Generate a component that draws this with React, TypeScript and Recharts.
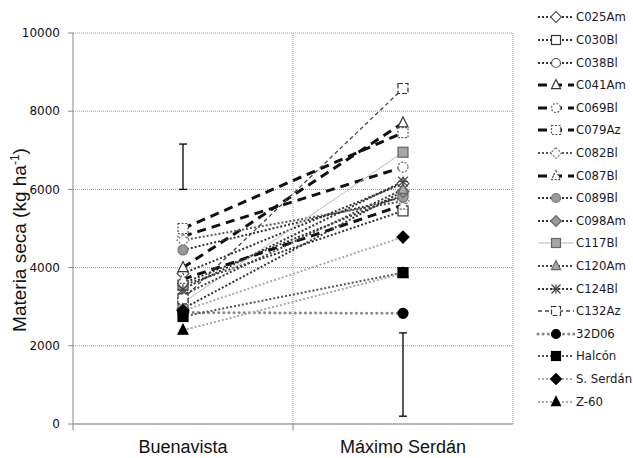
import React from "react";
import {
  LineChart,
  Line,
  XAxis,
  YAxis,
  CartesianGrid,
  ReferenceLine,
} from "recharts";

// sites (x categories) and where they sit on the 0..2 x scale
const sites = ["Buenavista", "Máximo Serdán"];
const sitePositions = [0.5, 1.5];
const siteBounds = [0, 1, 2];

const lineNames = [
  "C025Am",
  "C030Bl",
  "C038Bl",
  "C041Am",
  "C069Bl",
  "C079Az",
  "C082Bl",
  "C087Bl",
  "C089Bl",
  "C098Am",
  "C117Bl",
  "C120Am",
  "C124Bl",
  "C132Az",
  "32D06",
  "Halcón",
  "S. Serdán",
  "Z-60",
];

// materia seca (kg/ha) per line at each site
const buenavista = [
  3850, 3550, 3600, 4000, 4800, 5000, 4700, 3700, 4450, 2950, 3100, 3300, 3450,
  3200, 2850, 2750, 2900, 2400,
];
const maximoSerdan = [
  6150, 5450, 5850, 7700, 6570, 7450, 5700, 5600, 5800, 5950, 6950, 6000, 6200,
  8580, 2830, 3870, 4780, 3850,
];

// DMS bars drawn at each site
const lsdLow = [6000, 200];
const lsdHigh = [7160, 2330];

const yTicks = [0, 2000, 4000, 6000, 8000, 10000];

type Shape = "diamond" | "square" | "circle" | "triangle" | "asterisk";

interface SeriesStyle {
  stroke: string;
  width: number;
  dash?: string;
  round?: boolean;
  shape: Shape;
  fill: string;
  edge: string;
  edgeDash?: string;
}

const dotted = { stroke: "#333", width: 2, dash: "2 2" };
const heavyDash = { stroke: "#111", width: 3, dash: "9 6" };

const styles: Record<string, SeriesStyle> = {
  C025Am: { ...dotted, shape: "diamond", fill: "#fff", edge: "#555" },
  C030Bl: { ...dotted, shape: "square", fill: "#fff", edge: "#333" },
  C038Bl: { ...dotted, shape: "circle", fill: "#fff", edge: "#555" },
  C041Am: { ...heavyDash, shape: "triangle", fill: "#fff", edge: "#333" },
  C069Bl: { ...heavyDash, shape: "circle", fill: "#fff", edge: "#666", edgeDash: "2 1.5" },
  C079Az: { ...heavyDash, shape: "square", fill: "#fff", edge: "#555", edgeDash: "2 1.5" },
  C082Bl: { ...dotted, stroke: "#555", shape: "diamond", fill: "#fff", edge: "#777", edgeDash: "2 1.5" },
  C087Bl: { ...heavyDash, shape: "triangle", fill: "#fff", edge: "#555", edgeDash: "2 1.5" },
  C089Bl: { ...dotted, shape: "circle", fill: "#999", edge: "#777" },
  C098Am: { ...dotted, shape: "diamond", fill: "#999", edge: "#666" },
  C117Bl: { stroke: "#bbb", width: 1, shape: "square", fill: "#a6a6a6", edge: "#666" },
  C120Am: { ...dotted, stroke: "#444", shape: "triangle", fill: "#aaa", edge: "#666" },
  C124Bl: { ...dotted, shape: "asterisk", fill: "none", edge: "#444" },
  C132Az: { stroke: "#444", width: 1.3, dash: "4 3", shape: "square", fill: "#fff", edge: "#333", edgeDash: "5 2" },
  "32D06": { stroke: "#888", width: 3, dash: "0.1 5", round: true, shape: "circle", fill: "#000", edge: "#000" },
  Halcón: { ...dotted, stroke: "#555", shape: "square", fill: "#000", edge: "#000" },
  "S. Serdán": { ...dotted, stroke: "#aaa", shape: "diamond", fill: "#000", edge: "#000" },
  "Z-60": { ...dotted, stroke: "#aaa", shape: "triangle", fill: "#000", edge: "#000" },
};

const data = sitePositions.map((x, i) => {
  const row: Record<string, number | string> = { x, site: sites[i] };
  lineNames.forEach((name, j) => {
    row[name] = i === 0 ? buenavista[j] : maximoSerdan[j];
  });
  return row;
});

function Marker({ cx, cy, s, r = 5 }: { cx: number; cy: number; s: SeriesStyle; r?: number }) {
  const common = {
    fill: s.fill,
    stroke: s.edge,
    strokeWidth: 1.2,
    strokeDasharray: s.edgeDash,
  };
  switch (s.shape) {
    case "circle":
      return <circle cx={cx} cy={cy} r={r} {...common} />;
    case "square":
      return <rect x={cx - r} y={cy - r} width={r * 2} height={r * 2} {...common} />;
    case "diamond": {
      const d = r * 1.2;
      return (
        <polygon
          points={`${cx},${cy - d} ${cx + d},${cy} ${cx},${cy + d} ${cx - d},${cy}`}
          {...common}
        />
      );
    }
    case "triangle":
      return (
        <polygon
          points={`${cx},${cy - r * 1.2} ${cx + r},${cy + r * 0.8} ${cx - r},${cy + r * 0.8}`}
          {...common}
        />
      );
    case "asterisk":
      return (
        <g stroke={s.edge} strokeWidth={1.2}>
          <line x1={cx - r} y1={cy - r} x2={cx + r} y2={cy + r} />
          <line x1={cx - r} y1={cy + r} x2={cx + r} y2={cy - r} />
          <line x1={cx} y1={cy - r} x2={cx} y2={cy + r} />
          <line x1={cx - r} y1={cy} x2={cx + r} y2={cy} />
        </g>
      );
  }
  return null;
}

function YLabel() {
  return (
    <text
      x={26}
      y={240}
      transform="rotate(-90 26 240)"
      textAnchor="middle"
      fontFamily="'Liberation Sans', Arial, sans-serif"
      fontSize={19}
      fill="#111"
    >
      Materia seca (kg ha
      <tspan dy={-7} fontSize={12}>
        -1
      </tspan>
      <tspan dy={7}>)</tspan>
    </text>
  );
}

function LegendList() {
  return (
    <div style={{ position: "absolute", left: 0, top: 0 }}>
      {lineNames.map((name, i) => {
        const s = styles[name];
        const cy = 17.3 + i * 22.6;
        return (
          <div key={name}>
            <svg
              width={40}
              height={16}
              style={{ position: "absolute", left: 536, top: cy - 8 }}
            >
              <line
                x1={2}
                y1={8}
                x2={38}
                y2={8}
                stroke={s.stroke}
                strokeWidth={s.width}
                strokeDasharray={s.dash}
                strokeLinecap={s.round ? "round" : "butt"}
              />
              <Marker cx={20} cy={8} s={s} r={4.5} />
            </svg>
            <div
              style={{
                position: "absolute",
                left: 576,
                top: cy - 8,
                lineHeight: "16px",
                fontSize: 13,
                fontFamily: "'DejaVu Sans Condensed', 'DejaVu Sans', Tahoma, sans-serif",
                fontStretch: "condensed",
                color: "#1a1a2a",
                whiteSpace: "nowrap",
              }}
            >
              {name}
            </div>
          </div>
        );
      })}
    </div>
  );
}

export default function App() {
  return (
    <div
      style={{
        position: "absolute",
        left: 0,
        top: 0,
        width: 633,
        height: 458,
        background: "#fff",
      }}
    >
      <LineChart
        width={633}
        height={458}
        data={data}
        margin={{ top: 33, right: 120, bottom: 0, left: 13 }}
      >
        <CartesianGrid
          vertical={false}
          stroke="#999"
          strokeDasharray="1 1"
        />
        <XAxis
          type="number"
          dataKey="x"
          domain={[0, 2]}
          ticks={sitePositions}
          tickFormatter={(v: number) => sites[sitePositions.indexOf(v)]}
          tickLine={false}
          tickSize={0}
          tickMargin={16}
          height={34}
          axisLine={{ stroke: "#888" }}
          tick={{
            fill: "#111",
            fontSize: 18,
            fontFamily: "'Liberation Sans', Arial, sans-serif",
          }}
        />
        <YAxis
          domain={[0, 10000]}
          ticks={yTicks}
          width={60}
          tickSize={5}
          tickMargin={8}
          axisLine={{ stroke: "#888" }}
          tickLine={{ stroke: "#888" }}
          tick={{
            fill: "#111",
            fontSize: 12,
            fontFamily: "'DejaVu Sans', Tahoma, sans-serif",
          }}
          label={{ content: () => <YLabel /> }}
        />
        {siteBounds.slice(1).map((b) => (
          <ReferenceLine
            key={`grid-${b}`}
            x={b}
            stroke="#999"
            strokeDasharray="1 1"
            ifOverflow="visible"
          />
        ))}
        {siteBounds.slice(0, 2).map((b) => (
          <ReferenceLine
            key={`tick-${b}`}
            segment={[
              { x: b, y: 0 },
              { x: b, y: -160 },
            ]}
            stroke="#888"
            ifOverflow="visible"
          />
        ))}
        {lineNames.map((name) => {
          const s = styles[name];
          return (
            <Line
              key={name}
              dataKey={name}
              stroke={s.stroke}
              strokeWidth={s.width}
              strokeDasharray={s.dash}
              strokeLinecap={s.round ? "round" : "butt"}
              isAnimationActive={false}
              dot={(p: any) => (
                <Marker key={`${name}-${p.index}`} cx={p.cx} cy={p.cy} s={s} />
              )}
              activeDot={false}
            />
          );
        })}
        {sitePositions.map((x, i) => (
          <ReferenceLine
            key={`lsd-${i}`}
            segment={[
              { x, y: lsdLow[i] },
              { x, y: lsdHigh[i] },
            ]}
            stroke="#000"
            strokeWidth={1.3}
            ifOverflow="visible"
          />
        ))}
        {sitePositions.flatMap((x, i) =>
          [lsdLow[i], lsdHigh[i]].map((y, k) => (
            <ReferenceLine
              key={`cap-${i}-${k}`}
              segment={[
                { x: x - 0.018, y },
                { x: x + 0.018, y },
              ]}
              stroke="#000"
              strokeWidth={1.3}
              ifOverflow="visible"
            />
          ))
        )}
      </LineChart>
      <LegendList />
    </div>
  );
}
